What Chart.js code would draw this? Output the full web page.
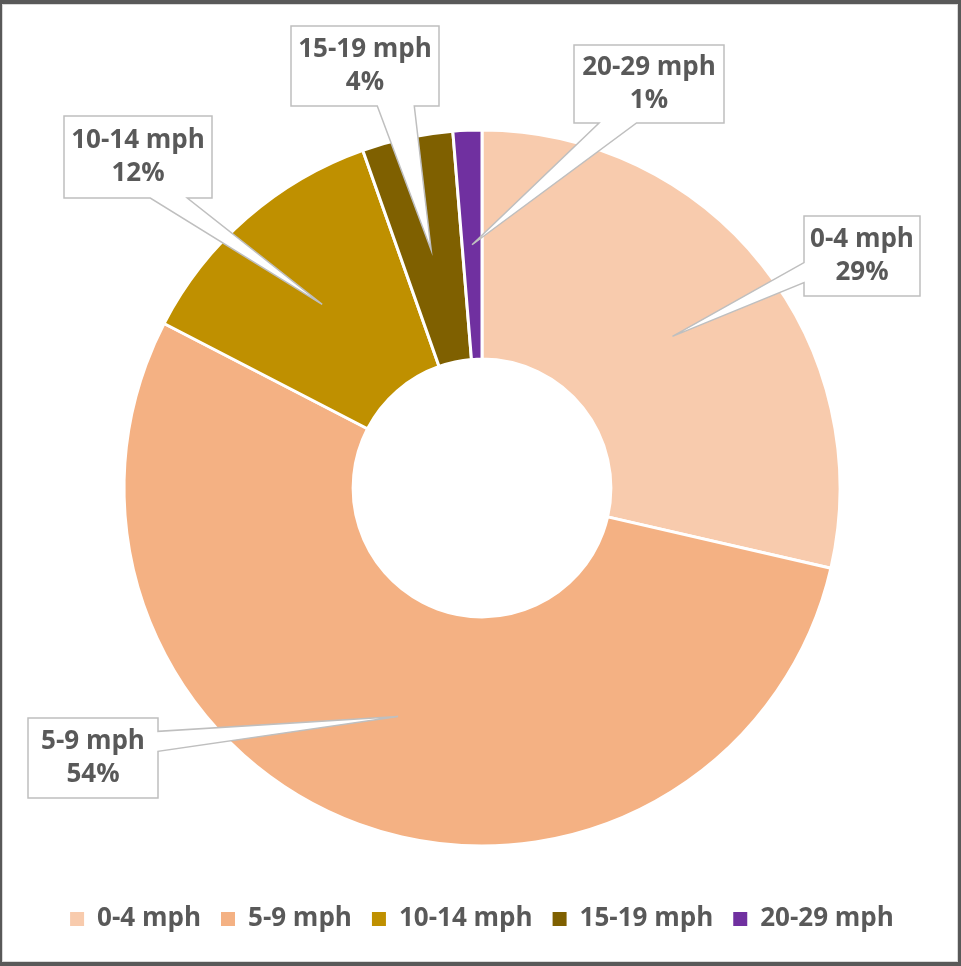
<!DOCTYPE html>
<html>
<head>
<meta charset="utf-8">
<script src="https://cdn.jsdelivr.net/npm/chart.js@4.4.1/dist/chart.umd.min.js"></script>
<style>
  html, body { margin: 0; padding: 0; background: #595959; }
  #frame { position: absolute; left: 2px; top: 4px; width: 956px; height: 958px; box-sizing: border-box; border: 1px solid #d9d9d9; background: #fff; }
  #frame canvas { display: block; }
</style>
</head>
<body>
<div id="frame"><canvas id="chartWind" width="954" height="956"></canvas></div>
<script>
const TEXT = '#595959';
const LINE = '#bfbfbf';

const categories = ['0-4 mph', '5-9 mph', '10-14 mph', '15-19 mph', '20-29 mph'];
const shares     = [28.6, 54.0, 12.0, 4.1, 1.3];
const colors     = ['#F8CBAD', '#F4B183', '#BF9000', '#7F6000', '#7030A0'];

// callout boxes: offset of box centre from doughnut centre, size, side the pointer leaves from
const callouts = [
  { dx: 380,  dy: -232, w: 116, h: 80, side: 'left' },
  { dx: -389, dy: 270,  w: 130, h: 80, side: 'right' },
  { dx: -344, dy: -331, w: 148, h: 82, side: 'bottom' },
  { dx: -117, dy: -422, w: 148, h: 80, side: 'bottom' },
  { dx: 167,  dy: -404, w: 150, h: 78, side: 'bottom' },
];

Chart.defaults.font.family = "'Open Sans', 'DejaVu Sans', sans-serif";

const calloutPlugin = {
  id: 'callouts',
  afterDatasetsDraw(chart) {
    const ctx = chart.ctx;
    const meta = chart.getDatasetMeta(0);
    const total = shares.reduce((a, b) => a + b, 0);
    meta.data.forEach((arc, i) => {
      const c = callouts[i];
      const tip = arc.tooltipPosition();
      const cx = arc.x + c.dx, cy = arc.y + c.dy;
      const l = cx - c.w / 2, r = cx + c.w / 2, t = cy - c.h / 2, b = cy + c.h / 2;
      ctx.save();
      ctx.beginPath();
      ctx.moveTo(l, t);
      ctx.lineTo(r, t);
      if (c.side === 'right') {
        const f = tip.y > cy ? [0.583, 0.833] : [0.167, 0.417];
        ctx.lineTo(r, t + c.h * f[0]);
        ctx.lineTo(tip.x, tip.y);
        ctx.lineTo(r, t + c.h * f[1]);
      }
      ctx.lineTo(r, b);
      if (c.side === 'bottom') {
        const f = tip.x > cx ? [0.833, 0.583] : [0.417, 0.167];
        ctx.lineTo(l + c.w * f[0], b);
        ctx.lineTo(tip.x, tip.y);
        ctx.lineTo(l + c.w * f[1], b);
      }
      ctx.lineTo(l, b);
      if (c.side === 'left') {
        const f = tip.y > cy ? [0.833, 0.583] : [0.417, 0.167];
        ctx.lineTo(l, t + c.h * f[0]);
        ctx.lineTo(tip.x, tip.y);
        ctx.lineTo(l, t + c.h * f[1]);
      }
      ctx.closePath();
      ctx.fillStyle = '#fff';
      ctx.fill();
      ctx.lineWidth = 1.5;
      ctx.strokeStyle = LINE;
      ctx.stroke();

      ctx.fillStyle = TEXT;
      ctx.font = "bold 26px 'Open Sans', sans-serif";
      ctx.textAlign = 'center';
      ctx.textBaseline = 'middle';
      ctx.fillText(categories[i], cx, cy - 16);
      ctx.fillText(Math.round(shares[i] / total * 100) + '%', cx, cy + 17);
      ctx.restore();
    });
  }
};

new Chart(document.getElementById('chartWind').getContext('2d'), {
  type: 'doughnut',
  data: {
    labels: categories,
    datasets: [{ data: shares, backgroundColor: colors, borderColor: '#fff', borderWidth: 3 }]
  },
  options: {
    responsive: false,
    animation: false,
    cutout: '36%',
    radius: 358,
    layout: { padding: { top: 85, left: 4, right: 0, bottom: 19 } },
    plugins: {
      tooltip: { enabled: false },
      legend: {
        position: 'bottom',
        labels: {
          boxWidth: 14, boxHeight: 14, padding: 20, color: TEXT,
          font: { size: 26, weight: 'bold' },
          generateLabels: (chart) => Chart.overrides.doughnut.plugins.legend.labels.generateLabels(chart)
            .map(it => ({ ...it, lineWidth: 0, strokeStyle: it.fillStyle }))
        }
      }
    }
  },
  plugins: [calloutPlugin]
});
</script>
</body>
</html>
